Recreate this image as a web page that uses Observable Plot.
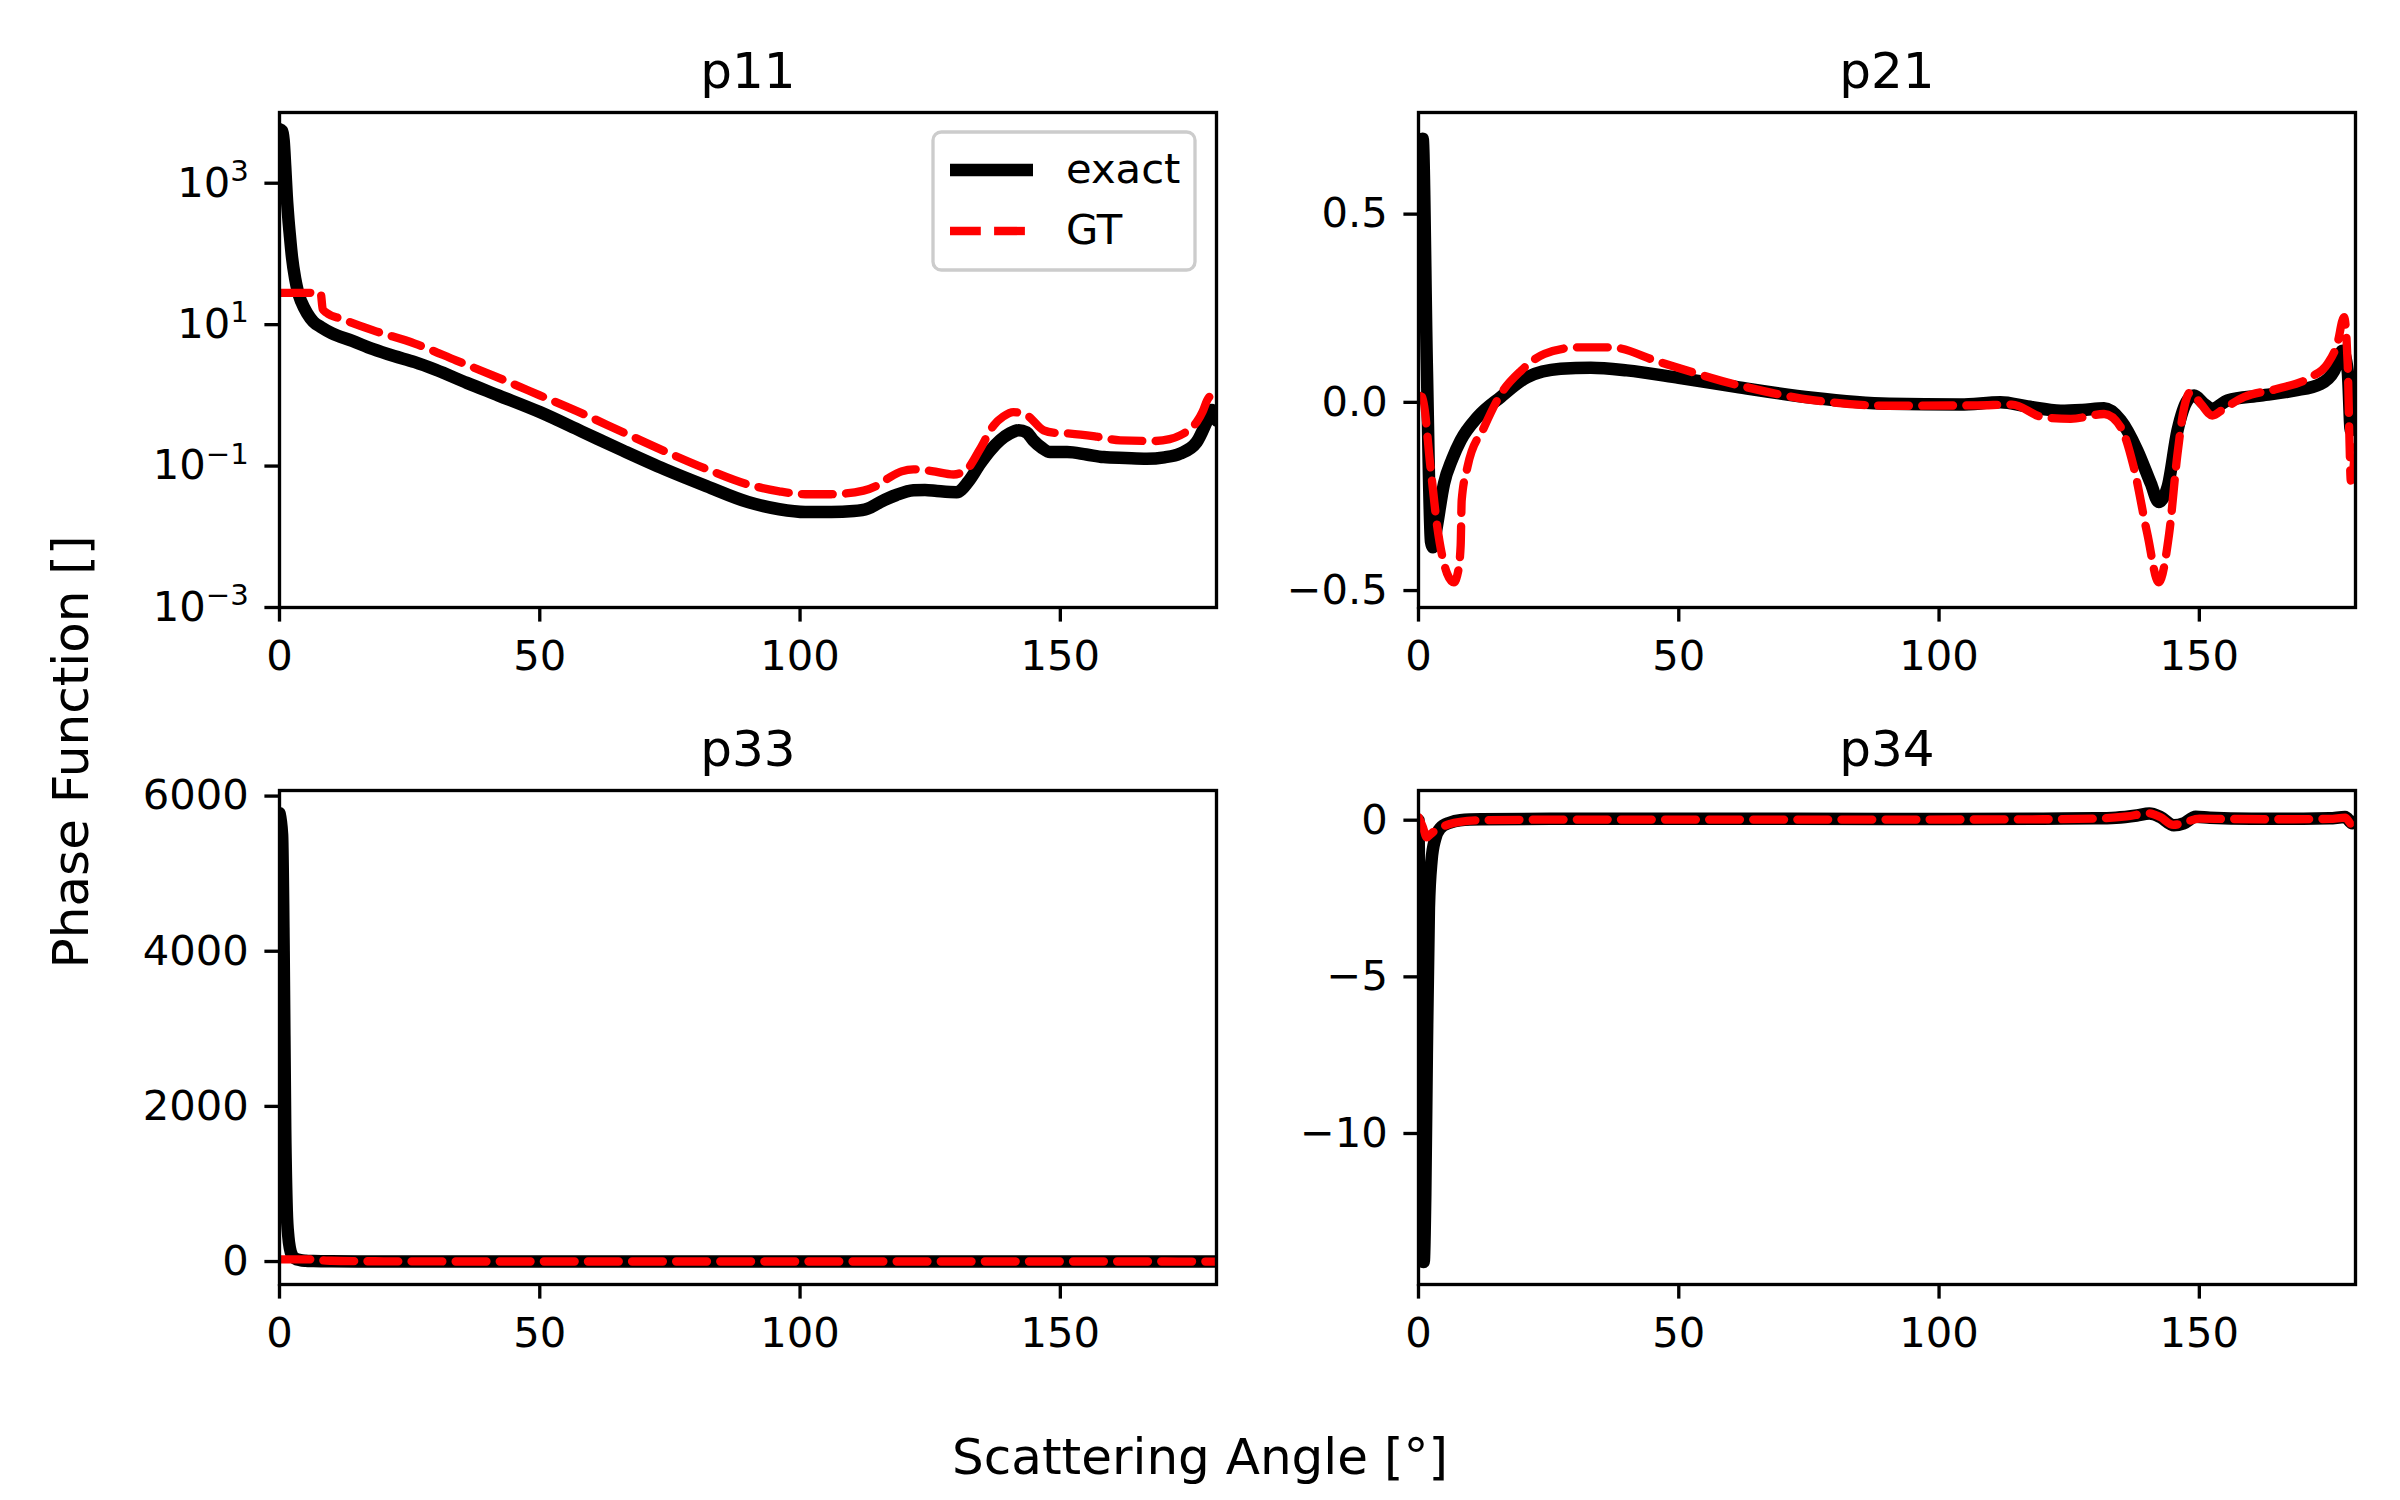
<!DOCTYPE html>
<html>
<head>
<meta charset="utf-8">
<script src="https://cdn.jsdelivr.net/npm/d3@7"></script>
<script src="https://cdn.jsdelivr.net/npm/@observablehq/plot@0.6"></script>
<style>
  html, body { margin: 0; padding: 0; background: #fff; }
  #fig { position: relative; width: 2400px; height: 1500px; background: #fff; overflow: hidden; font-family: "DejaVu Sans", sans-serif; }
</style>
</head>
<body>
<div id="fig"></div>
<script>
// ---------------- data ----------------
const xTicks = [0, 50, 100, 150];

// p11 (log scale)
const p11ExactAngle = [0, 0.5, 0.8, 1.1, 1.4, 1.7, 2.0, 2.4, 3.0, 3.5, 4.2, 5.3, 6.5, 8, 10, 14, 18, 22, 26, 30, 36, 42, 50, 58, 66, 74, 82, 90, 96, 101, 106, 110.3, 113, 115.4, 118.5, 121.8, 124, 126.3, 130.1, 132.3, 134.6, 136.5, 138.4, 140.3, 142, 143.5, 144.8, 146.5, 148, 151.3, 155, 158.3, 162.5, 166.6, 170, 173, 176.2, 178.2, 179.1, 180];
const p11Exact = [5800, 5500, 4000, 1700, 650, 320, 180, 90, 45, 30, 21, 14.5, 11, 9.2, 7.6, 5.9, 4.5, 3.6, 2.95, 2.3, 1.5, 1.0, 0.58, 0.31, 0.165, 0.09, 0.052, 0.031, 0.0245, 0.0224, 0.0224, 0.0231, 0.025, 0.031, 0.039, 0.0454, 0.046, 0.0444, 0.0427, 0.06, 0.108, 0.165, 0.231, 0.29, 0.32, 0.3, 0.231, 0.18, 0.158, 0.158, 0.146, 0.134, 0.13, 0.127, 0.133, 0.15, 0.219, 0.44, 0.62, 0.44];
const p11GTAngle = [0, 7.9, 8.3, 9, 12, 18, 26, 34, 42, 50, 58, 66, 74, 82, 90, 96, 101, 106, 112.2, 115, 117.3, 119.5, 121.8, 125.3, 129.5, 132.1, 134.5, 137.2, 139, 141, 143.6, 146.8, 149, 151.9, 157, 161.5, 167.9, 171, 173, 174.8, 176.2, 177.3, 178.2, 179.5, 180];
const p11GT = [28.2, 28.2, 16.6, 14.8, 12.0, 8.3, 5.4, 3.1, 1.78, 1.0, 0.56, 0.30, 0.162, 0.091, 0.055, 0.044, 0.040, 0.040, 0.045, 0.054, 0.070, 0.084, 0.09, 0.085, 0.076, 0.091, 0.17, 0.377, 0.5, 0.58, 0.52, 0.32, 0.295, 0.288, 0.26, 0.231, 0.226, 0.24, 0.272, 0.33, 0.42, 0.58, 0.85, 1.1, 1.2];
const p11YTicks = [1e-3, 1e-1, 1e1, 1e3];

// p21
const p21ExactAngle = [0, 0.8, 1.6, 2.4, 2.8, 3.4, 4.9, 6.5, 8.1, 11.3, 15.8, 20.9, 27.3, 33.1, 40, 50, 61, 75.7, 90.4, 104.1, 111.8, 117, 123.4, 127.5, 131.7, 134.9, 138.1, 140.7, 142.2, 143.9, 145.8, 147.7, 149, 150.9, 152.5, 155.4, 161.8, 168.2, 173.3, 175.9, 177.5, 178.5, 179.1, 180];
const p21Exact = [0.62, 0.70, 0.1, -0.37, -0.385, -0.34, -0.216, -0.15, -0.101, -0.04, 0.014, 0.067, 0.089, 0.092, 0.085, 0.065, 0.041, 0.012, -0.004, -0.006, 0.0, -0.011, -0.022, -0.02, -0.016, -0.048, -0.128, -0.216, -0.265, -0.225, -0.075, 0.005, 0.018, -0.004, -0.017, 0.005, 0.018, 0.031, 0.049, 0.084, 0.137, 0.084, -0.075, -0.04];
const p21GTAngle = [0, 0.7, 2.3, 3.6, 5.5, 6.8, 7.6, 8.1, 8.3, 9.4, 12.6, 15.8, 19.7, 24.2, 30.6, 37, 46.3, 61, 75.7, 90.4, 107.3, 114, 120.1, 125.3, 131.7, 134.9, 137.4, 140, 142.2, 144.2, 145.8, 147.1, 148.3, 150.3, 152.5, 154.7, 158.6, 165, 171.4, 174.6, 176.5, 177.8, 178.5, 178.8, 179.1, 180];
const p21GT = [0.018, 0.014, -0.172, -0.33, -0.455, -0.478, -0.45, -0.38, -0.26, -0.172, -0.066, 0.022, 0.084, 0.129, 0.146, 0.146, 0.107, 0.047, 0.006, -0.009, -0.008, -0.006, -0.04, -0.044, -0.031, -0.066, -0.172, -0.349, -0.478, -0.349, -0.137, -0.013, 0.027, -0.004, -0.035, -0.017, 0.014, 0.036, 0.067, 0.102, 0.155, 0.226, 0.102, -0.075, -0.208, -0.119];
const p21YTicks = [-0.5, 0, 0.5];

// p33
const p33ExactAngle = [0, 0.5, 0.8, 1.1, 1.4, 1.7, 2.0, 2.4, 3.0, 4.0, 5.0, 6.5, 8, 10, 15, 20, 30, 45, 60, 90, 120, 150, 170, 180];
const p33Exact = [5780, 5500, 4000, 1700, 650, 320, 170, 80, 40, 18, 10, 6, 4, 3, 1.8, 1.0, 0.3, -0.1, -0.2, -0.03, 0.0, 0.02, -0.1, -0.4];
const p33GTAngle = [0, 7.9, 8.3, 10, 15, 20, 30, 45, 60, 90, 120, 140, 150, 170, 180];
const p33GT = [28, 28, 15, 10, 5, 3, 1.2, 0.4, 0.1, 0.0, 0.02, 0.1, 0.05, 0.0, -0.5];
const p33YTicks = [0, 2000, 4000, 6000];

// p34
const p34ExactAngle = [0, 0.3, 0.7, 1.0, 1.3, 1.6, 2.0, 2.5, 3.2, 4.2, 6, 8, 12, 30, 60, 90, 120, 130, 134, 138, 140.4, 142.5, 145.1, 147, 149.3, 152, 160, 170, 175, 178, 179.4, 180];
const p34Exact = [0.0, -5, -12.5, -14.1, -12, -7.5, -2.8, -1.3, -0.6, -0.25, -0.08, 0.0, 0.03, 0.05, 0.05, 0.04, 0.05, 0.06, 0.08, 0.15, 0.21, 0.1, -0.16, -0.1, 0.11, 0.08, 0.05, 0.05, 0.06, 0.1, -0.1, -0.05];
const p34GTAngle = [0, 0.8, 1.6, 2.3, 3.2, 4.5, 6, 8, 12, 30, 60, 90, 120, 130, 136, 140.4, 142.5, 145, 147, 150, 155, 165, 175, 178, 179.4, 180];
const p34GT = [0.1, -0.2, -0.55, -0.45, -0.33, -0.22, -0.12, -0.05, 0.0, 0.02, 0.02, 0.02, 0.03, 0.05, 0.12, 0.22, 0.1, -0.15, -0.08, 0.05, 0.04, 0.03, 0.04, 0.08, -0.15, -0.1];
const p34YTicks = [-10, -5, 0];

const seriesNames = ["exact", "GT"];
const seriesColors = ["#000000", "#ff0000"];

// ---------------- drawing ----------------
const fig = document.getElementById("fig");
const M = {l: 170, r: 30, t: 90, b: 90};
const TICK = 14.6, LW = 3.33, FS = 41.7;

function panel(o) {
  const exact = o.exactX.map((x, i) => ({angle: x, value: o.exactY[i]}));
  const gt = o.gtX.map((x, i) => ({angle: x, value: o.gtY[i]}));
  const svg = Plot.plot({
    width: o.w + M.l + M.r,
    height: o.h + M.t + M.b,
    marginLeft: M.l, marginRight: M.r, marginTop: M.t, marginBottom: M.b,
    style: {fontFamily: '"DejaVu Sans", sans-serif', fontSize: FS + "px", color: "#000", background: "transparent", overflow: "visible"},
    x: {domain: [0, 180]},
    y: {type: o.yType || "linear", domain: o.yDomain},
    marks: [
      Plot.line(exact, {x: "angle", y: "value", stroke: seriesColors[0], strokeWidth: 12.5, curve: "monotone-x", clip: true, strokeLinejoin: "round", strokeLinecap: "round"}),
      Plot.line(gt, {x: "angle", y: "value", stroke: seriesColors[1], strokeWidth: 8.33, strokeDasharray: "30.8,13.3", curve: "monotone-x", clip: true, strokeLinejoin: "round"}),
      Plot.frame({stroke: "#000", strokeWidth: LW}),
      Plot.axisX({ticks: xTicks, tickFormat: d3.format("d"), tickSize: TICK, tickPadding: 17.8, strokeWidth: LW, fontSize: FS, label: null}),
      Plot.axisY({ticks: o.yTicks, tickFormat: o.yFormat, tickSize: TICK, tickPadding: 16, strokeWidth: LW, fontSize: FS, label: null}),
      Plot.text([o.title], {text: d => d, frameAnchor: "top", dy: -25, lineAnchor: "bottom", fontSize: 50})
    ]
  });
  svg.style.position = "absolute";
  svg.style.left = (o.left - M.l) + "px";
  svg.style.top = (o.top - M.t) + "px";
  // superscript exponents for log tick labels
  svg.querySelectorAll('g[aria-label="y-axis tick label"] text').forEach(t => {
    const m = t.textContent.match(/^10\^(.+)$/);
    if (!m) return;
    t.textContent = "10";
    const ts = document.createElementNS("http://www.w3.org/2000/svg", "tspan");
    ts.setAttribute("dy", "-15.6");
    ts.style.fontSize = "29.2px";
    ts.textContent = m[1];
    t.appendChild(ts);
  });
  fig.appendChild(svg);
}

const W = 937, H = 495, H2 = 494;
panel({title: "p11", left: 279.4, top: 111.6, w: W, h: H, yType: "log", yDomain: [1e-3, 1e4], yTicks: p11YTicks,
  yFormat: d => "10^" + String(Math.round(Math.log10(d))).replace("-", "\u2212"),
  exactX: p11ExactAngle, exactY: p11Exact, gtX: p11GTAngle, gtY: p11GT});
panel({title: "p21", left: 1418.1, top: 111.6, w: W, h: H, yDomain: [-0.545, 0.770], yTicks: p21YTicks,
  yFormat: d3.format(".1f"),
  exactX: p21ExactAngle, exactY: p21Exact, gtX: p21GTAngle, gtY: p21GT});
panel({title: "p33", left: 279.4, top: 790.3, w: W, h: H2, yDomain: [-296, 6072], yTicks: p33YTicks,
  yFormat: d3.format("d"),
  exactX: p33ExactAngle, exactY: p33Exact, gtX: p33GTAngle, gtY: p33GT});
panel({title: "p34", left: 1418.1, top: 790.3, w: W, h: H2, yDomain: [-14.82, 0.948], yTicks: p34YTicks,
  yFormat: d3.format("d"),
  exactX: p34ExactAngle, exactY: p34Exact, gtX: p34GTAngle, gtY: p34GT});

// ---------------- figure-level labels and legend ----------------
const ov = d3.create("svg")
  .attr("width", 2400).attr("height", 1500)
  .style("position", "absolute").style("left", "0px").style("top", "0px")
  .style("pointer-events", "none")
  .style("font-family", '"DejaVu Sans", sans-serif');

ov.append("text")
  .attr("x", 1200).attr("y", 1474)
  .attr("text-anchor", "middle").attr("font-size", 50).attr("fill", "#000")
  .text("Scattering Angle [°]");

ov.append("text")
  .attr("transform", "translate(88,752) rotate(-90)")
  .attr("text-anchor", "middle").attr("font-size", 50).attr("fill", "#000")
  .text("Phase Function []");

const lg = ov.append("g");
lg.append("rect")
  .attr("x", 933).attr("y", 132).attr("width", 262).attr("height", 138)
  .attr("rx", 8.3).attr("ry", 8.3)
  .attr("fill", "#ffffff").attr("fill-opacity", 0.8)
  .attr("stroke", "#cccccc").attr("stroke-width", 3.33);
const rowsY = [170, 231];
seriesNames.forEach((name, i) => {
  lg.append("line")
    .attr("x1", 950).attr("x2", 1033).attr("y1", rowsY[i]).attr("y2", rowsY[i])
    .attr("stroke", seriesColors[i])
    .attr("stroke-width", i === 0 ? 12.5 : 8.33)
    .attr("stroke-dasharray", i === 0 ? null : "30.8,13.3");
  lg.append("text")
    .attr("x", 1066).attr("y", rowsY[i] + 13)
    .attr("font-size", FS).attr("fill", "#000")
    .text(name);
});

fig.appendChild(ov.node());
</script>
</body>
</html>
